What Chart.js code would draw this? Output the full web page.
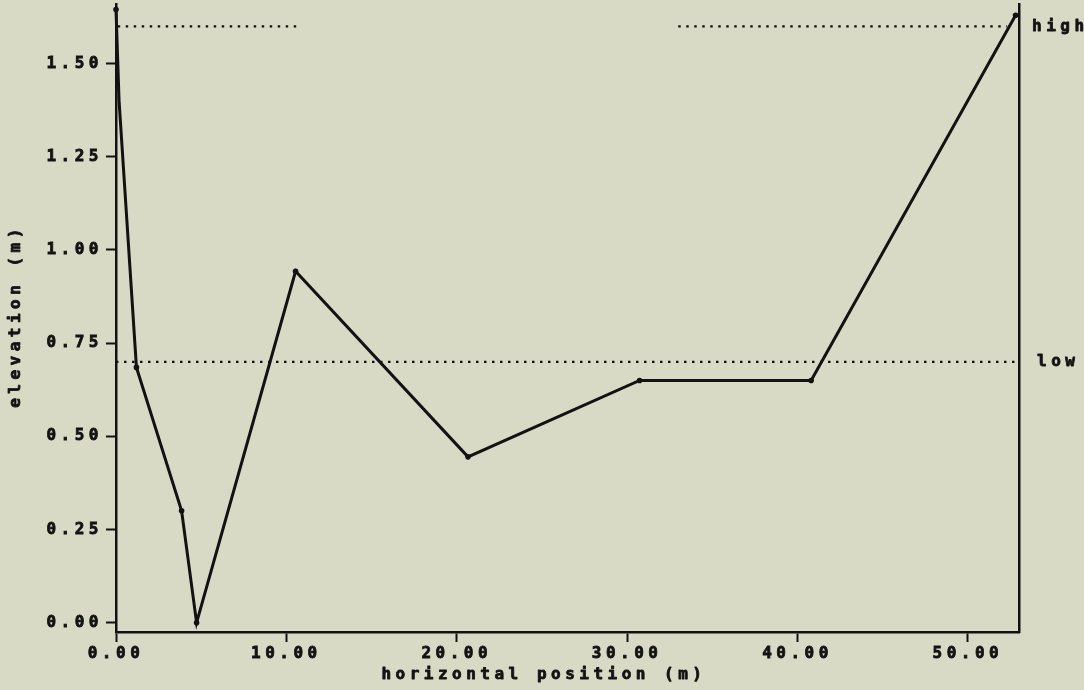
<!DOCTYPE html>
<html>
<head>
<meta charset="utf-8">
<title>Beach profile elevation</title>
<script src="https://cdn.jsdelivr.net/npm/chart.js@4.4.1/dist/chart.umd.min.js"></script>
<style>
  html, body { margin: 0; padding: 0; background: #d8dac6; overflow: hidden; }
  #wrap { position: relative; width: 1084px; height: 690px; }
</style>
</head>
<body>
<div id="wrap"><canvas id="chart"></canvas></div>
<script>
// Surveyed profile: horizontal position (m) and elevation (m)
const positions  = [0, 0.18, 1.2, 3.85, 4.73, 10.54, 20.66, 30.73, 40.8, 52.8];
const elevations = [1.645, 1.40, 0.685, 0.30, 0.0, 0.943, 0.445, 0.65, 0.65, 1.63];
// Dot size per vertex (the bend below the crest carries no marker)
const markerSizes = [2.8, 0, 2.8, 2.8, 2.8, 2.8, 2.8, 2.8, 2.8, 2.8];

// Reference water levels and the spans over which each is drawn
const highLevel = 1.6;
const lowLevel = 0.7;
const highSpans = [[0.1, 10.8], [33.0, 52.3]];
const lowSpans = [[0, 52.85]];

// Axis ticks
const xTicks = [0, 10, 20, 30, 40, 50];
const yTicks = [0, 0.25, 0.5, 0.75, 1.0, 1.25, 1.5];

const INK = '#121212';
const FONT = 'DejaVu Sans Mono';
const SPACING = '4.5px';
const TEXT_STROKE = 0.8;

Chart.defaults.font.family = FONT;
Chart.defaults.font.size = 16;
Chart.defaults.font.weight = 'bold';
Chart.defaults.color = INK;

const profile = positions.map((x, i) => ({ x, y: elevations[i] }));

const levelDataset = (span, level) => ({
  data: [{ x: span[0], y: level }, { x: span[1], y: level }],
  showLine: true,
  borderColor: INK,
  borderWidth: 2.3,
  borderDash: [2.5, 5.5],
  borderCapStyle: 'butt',
  pointRadius: 0,
  clip: false
});

const datasets = [
  {
    data: profile,
    showLine: true,
    borderColor: INK,
    borderWidth: 3,
    pointRadius: markerSizes,
    pointBackgroundColor: INK,
    pointBorderWidth: 0,
    tension: 0,
    clip: false
  },
  ...highSpans.map(s => levelDataset(s, highLevel)),
  ...lowSpans.map(s => levelDataset(s, lowLevel))
];

// Wide, typewriter-like spacing for every piece of text
const spacing = {
  id: 'spacing',
  beforeUpdate(chart) { chart.ctx.letterSpacing = SPACING; },
  beforeDraw(chart) { chart.ctx.letterSpacing = SPACING; }
};

// Axis titles and level labels
const annotations = {
  id: 'annotations',
  afterDraw(chart) {
    const { ctx, chartArea, scales } = chart;
    const xs = scales.x, ys = scales.y;
    ctx.save();
    ctx.letterSpacing = SPACING;
    ctx.fillStyle = INK;
    ctx.strokeStyle = INK;
    ctx.lineWidth = TEXT_STROKE;
    ctx.lineJoin = 'round';
    ctx.font = `bold 16px ${FONT}`;
    ctx.textBaseline = 'middle';
    const put = (t, x, y) => { ctx.strokeText(t, x, y); ctx.fillText(t, x, y); };

    ctx.textAlign = 'left';
    put('high', chartArea.right + 13, ys.getPixelForValue(highLevel));
    put('low', chartArea.right + 18, ys.getPixelForValue(lowLevel));

    ctx.textAlign = 'center';
    put('horizontal position (m)', xs.getPixelForValue(25) + 2, 675);

    ctx.translate(16, (chartArea.top + chartArea.bottom) / 2);
    ctx.rotate(-Math.PI / 2);
    put('elevation (m)', 2, 0);
    ctx.restore();
  }
};

const axisGrid = {
  drawOnChartArea: false,
  drawTicks: true,
  tickLength: 10,
  tickColor: INK,
  tickWidth: 2
};

const tickText = {
  textStrokeColor: INK,
  textStrokeWidth: TEXT_STROKE,
  callback: v => Number(v).toFixed(2)
};

const noEdgePadding = s => {
  s.paddingTop = 0; s.paddingBottom = 0; s.paddingLeft = 0; s.paddingRight = 0;
};

new Chart(document.getElementById('chart'), {
  type: 'scatter',
  data: { datasets },
  options: {
    responsive: true,
    maintainAspectRatio: false,
    animation: false,
    events: [],
    layout: { padding: { top: 4, left: 0, right: 0, bottom: 0 } },
    plugins: {
      legend: { display: false },
      tooltip: { enabled: false }
    },
    scales: {
      x: {
        type: 'linear',
        position: 'bottom',
        min: 0,
        max: 53,
        afterBuildTicks: s => { s.ticks = xTicks.map(v => ({ value: v })); },
        afterFit: s => { s.height = 58; noEdgePadding(s); },
        ticks: { ...tickText, padding: 2, maxRotation: 0 },
        grid: axisGrid,
        border: { display: true, color: INK, width: 2.5 }
      },
      y: {
        type: 'linear',
        position: 'left',
        min: -0.025,
        max: 1.66,
        afterBuildTicks: s => { s.ticks = yTicks.map(v => ({ value: v })); },
        afterFit: s => { s.width = 116; noEdgePadding(s); },
        ticks: { ...tickText, padding: 3 },
        grid: axisGrid,
        border: { display: true, color: INK, width: 2.5 }
      },
      y1: {
        type: 'linear',
        position: 'right',
        min: -0.025,
        max: 1.66,
        afterFit: s => { s.width = 65; noEdgePadding(s); },
        ticks: { display: false },
        grid: { drawOnChartArea: false, drawTicks: false },
        border: { display: true, color: INK, width: 2.5 }
      }
    }
  },
  plugins: [spacing, annotations]
});
</script>
</body>
</html>
